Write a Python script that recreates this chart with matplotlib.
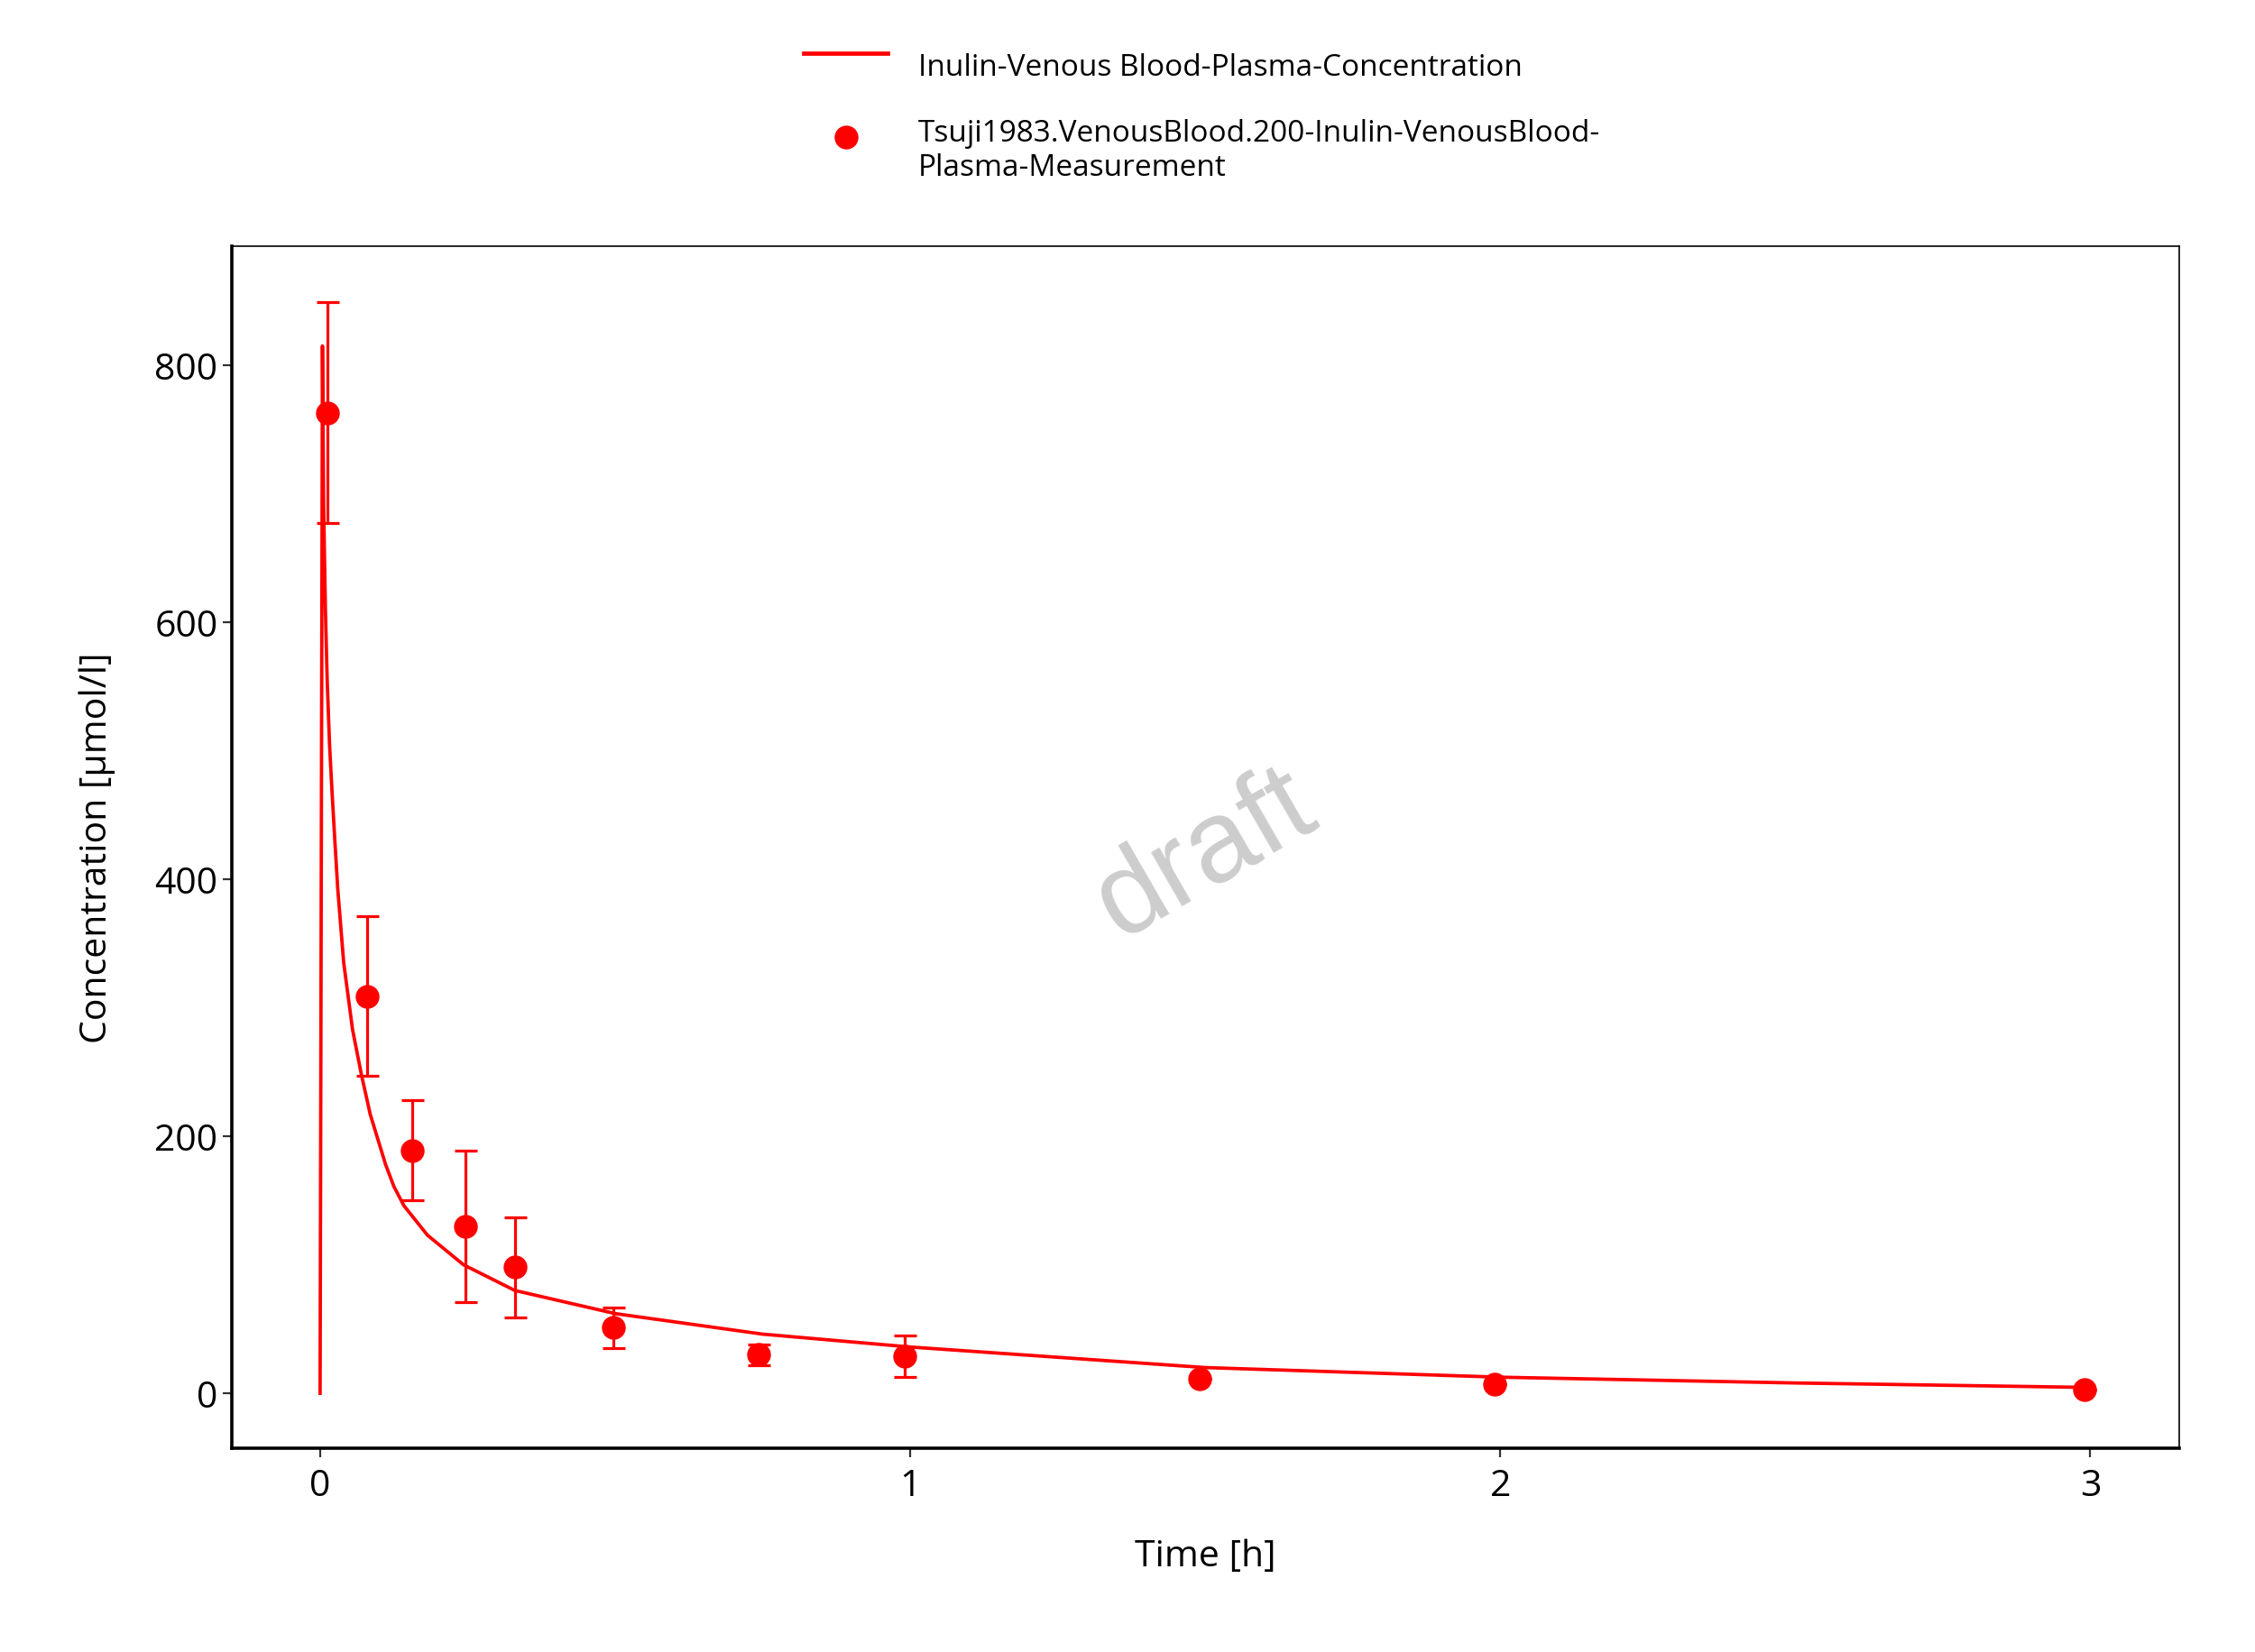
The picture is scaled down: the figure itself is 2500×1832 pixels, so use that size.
import numpy as np
import matplotlib
matplotlib.use('Agg')
import matplotlib.pyplot as plt
from matplotlib.lines import Line2D
from matplotlib.legend_handler import HandlerLine2D

plt.rcParams['font.family'] = ['Open Sans', 'DejaVu Sans']

# simulated curve
sim_time = [0, 0.004, 0.006, 0.009, 0.012, 0.016, 0.02, 0.025, 0.03, 0.04,
            0.055, 0.07, 0.085, 0.097, 0.111, 0.125, 0.142, 0.182, 0.243,
            0.33, 0.5, 0.75, 1.0, 1.5, 2.0, 2.5, 3.0]
sim_conc = [0, 815, 690, 610, 555, 505, 470, 430, 392, 335,
            283, 248, 217, 199, 178, 161, 146, 123, 100,
            80, 62, 46, 36, 20, 12.5, 8, 4.5]

# observed data with error bars
obs_time = [0.013, 0.08, 0.156, 0.246, 0.33, 0.497, 0.743, 0.99, 1.49, 1.99, 2.99]
obs_conc = [763, 309, 189, 130, 98, 51, 30, 29, 11, 7, 2.5]
obs_err = [86, 62, 39, 59, 39, 16, 8, 16, 0, 0, 0]

sim_label = 'Inulin-Venous Blood-Plasma-Concentration'
obs_label = 'Tsuji1983.VenousBlood.200-Inulin-VenousBlood-\nPlasma-Measurement'

RED = '#FF0000'


class ShiftedLine(HandlerLine2D):
    """legend handle nudged vertically (ggplot aligns keys to first text line)"""
    def __init__(self, dy, **kw):
        super().__init__(**kw)
        self.dy = dy

    def create_artists(self, *args, **kw):
        artists = super().create_artists(*args, **kw)
        for a in artists:
            a.set_ydata(np.asarray(a.get_ydata()) + self.dy)
        return artists


fig = plt.figure(figsize=(25, 18.33), dpi=100)
ax = fig.add_axes([0.1027, 0.1235, 0.8635, 0.7269])

ax.plot(sim_time, sim_conc, color=RED, linewidth=2.7, zorder=2)
ax.errorbar(obs_time, obs_conc, yerr=obs_err, fmt='o', color=RED, ecolor=RED,
            markersize=18, elinewidth=2.3, capsize=9, capthick=2.3, zorder=3)

ax.set_xlim(-0.15, 3.15)
ax.set_ylim(-42.5, 892.5)
ax.set_xticks([0, 1, 2, 3])
ax.set_yticks([0, 200, 400, 600, 800])

for side in ['top', 'right']:
    ax.spines[side].set_linewidth(1.2)
for side in ['left', 'bottom']:
    ax.spines[side].set_linewidth(2.6)
ax.tick_params(axis='both', length=7, width=1.6, color='#333333',
               labelsize=29.5, labelcolor='black')
ax.tick_params(axis='x', pad=9)
ax.tick_params(axis='y', pad=4)

ax.set_xlabel('Time [h]', fontsize=29.5, labelpad=27)
ax.set_ylabel('Concentration [µmol/l]', fontsize=29.5, labelpad=31)

ax.text(0.5, 0.494, 'draft', transform=ax.transAxes, rotation=30,
        ha='center', va='center', fontsize=93, color='#CDCDCD',
        family='Liberation Sans', zorder=1)

line_key = Line2D([], [], color=RED, linewidth=3.4)
dot_key = Line2D([], [], color=RED, marker='o', linestyle='none', markersize=18)
fig.legend([line_key, dot_key], [sim_label, obs_label], loc='upper left',
           bbox_to_anchor=(0.3444, 0.984), frameon=False, fontsize=24,
           handlelength=2.8, handletextpad=1.0, labelspacing=1.2,
           handler_map={line_key: ShiftedLine(9), dot_key: ShiftedLine(11)})

fig.savefig('out.png', dpi=100)
